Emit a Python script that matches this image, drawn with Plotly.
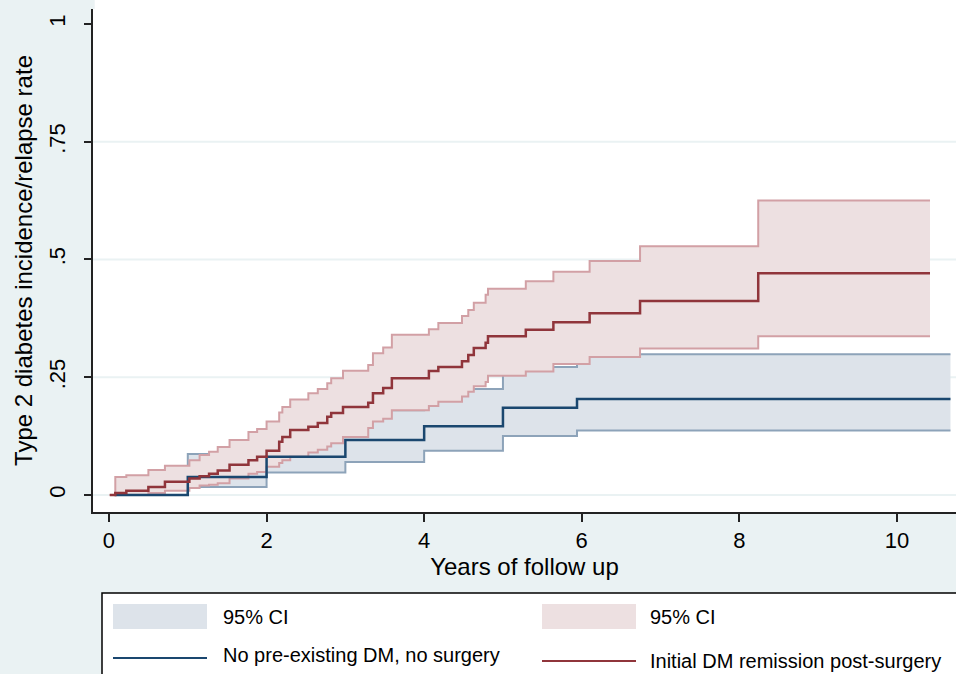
import plotly.graph_objects as go

# ---- data ----
blue_t = [0.07, 1.00, 2.00, 3.00, 4.00, 5.00, 5.94, 10.68]
blue_est = [0.0, 0.038, 0.081, 0.117, 0.146, 0.185, 0.204, 0.204]
blue_lo = [0.0, 0.017, 0.048, 0.070, 0.094, 0.125, 0.137, 0.137]
blue_hi = [0.0, 0.087, 0.140, 0.180, 0.225, 0.272, 0.299, 0.299]

red_t = [0.01, 0.08, 0.22, 0.50, 0.71, 1.02, 1.15, 1.27, 1.38, 1.53, 1.77, 1.88, 2.00, 2.16, 2.20,
         2.30, 2.53, 2.65, 2.77, 2.82, 2.97, 3.29, 3.35, 3.48, 3.59, 4.06, 4.18, 4.48, 4.56, 4.63,
         4.78, 4.81, 5.29, 5.64, 6.10, 6.74, 8.24, 10.42]
red_est = [0.0, 0.004, 0.009, 0.017, 0.028, 0.035, 0.040, 0.045, 0.052, 0.064, 0.074, 0.081, 0.094,
           0.113, 0.123, 0.138, 0.145, 0.153, 0.166, 0.174, 0.187, 0.196, 0.216, 0.227, 0.248, 0.263,
           0.272, 0.284, 0.297, 0.312, 0.323, 0.337, 0.351, 0.367, 0.386, 0.412, 0.471, 0.471]
red_hi = [0.0, 0.038, 0.042, 0.053, 0.062, 0.074, 0.085, 0.092, 0.102, 0.117, 0.134, 0.140, 0.156,
          0.175, 0.187, 0.203, 0.216, 0.225, 0.237, 0.248, 0.264, 0.276, 0.301, 0.313, 0.340, 0.352,
          0.365, 0.380, 0.393, 0.408, 0.425, 0.438, 0.454, 0.474, 0.497, 0.528, 0.625, 0.625]
red_lo = [0.0, 0.0, 0.0, 0.004, 0.009, 0.015, 0.020, 0.022, 0.025, 0.035, 0.045, 0.049, 0.060,
          0.068, 0.074, 0.081, 0.090, 0.096, 0.103, 0.110, 0.123, 0.142, 0.156, 0.162, 0.180, 0.189,
          0.198, 0.209, 0.219, 0.231, 0.240, 0.253, 0.262, 0.278, 0.293, 0.311, 0.337, 0.337]

x_ticks = [0, 2, 4, 6, 8, 10]
y_ticks = [0, 0.25, 0.5, 0.75, 1]
y_tick_text = ["0", ".25", ".5", ".75", "1"]

legend_ci = "95% CI"
name_blue = "No pre-existing DM, no surgery"
name_red = "Initial DM remission post-surgery"

# ---- styles ----
BG = "#eaf2f3"
BLUE = "#1a476f"
BLUE_CI_LINE = "#8da3b9"
BLUE_CI_FILL = "#dde3ea"
RED = "#90353b"
RED_CI_LINE = "#d2a0a5"
RED_CI_FILL = "#ede0e1"
FONT = "Liberation Sans, Arial, sans-serif"

fig = go.Figure()
fig.add_trace(go.Scatter(x=blue_t, y=blue_lo, mode="lines", line=dict(shape="hv", color=BLUE_CI_LINE, width=2),
                         showlegend=False, hoverinfo="skip"))
fig.add_trace(go.Scatter(x=blue_t, y=blue_hi, mode="lines", line=dict(shape="hv", color=BLUE_CI_LINE, width=2),
                         fill="tonexty", fillcolor=BLUE_CI_FILL, showlegend=False, hoverinfo="skip"))
fig.add_trace(go.Scatter(x=red_t, y=red_lo, mode="lines", line=dict(shape="hv", color=RED_CI_LINE, width=2),
                         showlegend=False, hoverinfo="skip"))
fig.add_trace(go.Scatter(x=red_t, y=red_hi, mode="lines", line=dict(shape="hv", color=RED_CI_LINE, width=2),
                         fill="tonexty", fillcolor=RED_CI_FILL, showlegend=False, hoverinfo="skip"))
fig.add_trace(go.Scatter(x=blue_t, y=blue_est, mode="lines", line=dict(shape="hv", color=BLUE, width=2.5),
                         name=name_blue, showlegend=False))
fig.add_trace(go.Scatter(x=red_t, y=red_est, mode="lines", line=dict(shape="hv", color=RED, width=2.5),
                         name=name_red, showlegend=False))

# pixel -> paper helpers for the legend box (plot area: x 93..956, y 9..512)
L, R, T, B = 93, 956, 9, 512
def px(x):
    return (x - L) / (R - L)
def py(y):
    return (B - y) / (B - T)

shapes = []
# gridlines at the y ticks (except top)
for v in y_ticks[:-1]:
    shapes.append(dict(type="line", xref="paper", yref="y", x0=0, x1=1, y0=v, y1=v,
                       line=dict(color=BG, width=2), layer="below"))
# white strip above plot region
shapes.append(dict(type="rect", xref="paper", yref="paper", x0=0.002, x1=1.01, y0=1, y1=1.03,
                   fillcolor="white", line=dict(width=0), layer="below"))
# legend box
shapes.append(dict(type="rect", xref="paper", yref="paper", x0=px(102), x1=px(962), y0=py(593), y1=py(680),
                   fillcolor="white", line=dict(color="black", width=1.5)))
# legend swatches
shapes.append(dict(type="rect", xref="paper", yref="paper", x0=px(113), x1=px(207), y0=py(604), y1=py(629),
                   fillcolor=BLUE_CI_FILL, line=dict(width=0)))
shapes.append(dict(type="rect", xref="paper", yref="paper", x0=px(542), x1=px(636), y0=py(604), y1=py(629),
                   fillcolor=RED_CI_FILL, line=dict(width=0)))
shapes.append(dict(type="line", xref="paper", yref="paper", x0=px(113), x1=px(207), y0=py(658), y1=py(658),
                   line=dict(color=BLUE, width=2)))
shapes.append(dict(type="line", xref="paper", yref="paper", x0=px(542), x1=px(636), y0=py(661), y1=py(661),
                   line=dict(color=RED, width=2)))

annotations = []
for (xx, yy, txt) in [(221, 617, legend_ci), (648, 617, legend_ci), (221, 655, name_blue), (648, 661, name_red)]:
    annotations.append(dict(xref="paper", yref="paper", x=px(xx), y=py(yy), text=txt, showarrow=False,
                            xanchor="left", yanchor="middle", font=dict(size=20, color="black", family=FONT)))

fig.update_layout(
    width=956, height=674,
    margin=dict(l=L, r=0, t=T, b=674 - B, pad=0),
    paper_bgcolor=BG, plot_bgcolor="white",
    font=dict(family=FONT, color="black"),
    shapes=shapes, annotations=annotations,
    showlegend=False,
)
fig.update_xaxes(
    range=[-0.203, 10.75], tickvals=x_ticks, ticktext=[str(v) for v in x_ticks],
    showgrid=False, zeroline=False, showline=True, linecolor="#222222", linewidth=1.5,
    ticks="outside", ticklen=8, tickwidth=1.5, tickcolor="#222222",
    tickfont=dict(size=22), title=dict(text="Years of follow up", font=dict(size=24), standoff=2),
)
fig.update_yaxes(
    range=[-0.0361, 1.0318], tickvals=y_ticks, ticktext=y_tick_text, tickangle=-90,
    showgrid=False, zeroline=False, showline=True, linecolor="#222222", linewidth=1.5,
    ticks="outside", ticklen=7, tickwidth=1.5, tickcolor="#222222",
    tickfont=dict(size=22), ticklabelstandoff=10,
    title=dict(text="Type 2 diabetes incidence/relapse rate", font=dict(size=24), standoff=6),
)

fig.write_html("out.html", config={"displayModeBar": False},
               post_script="document.body.style.margin='0';document.body.style.overflow='hidden';")
